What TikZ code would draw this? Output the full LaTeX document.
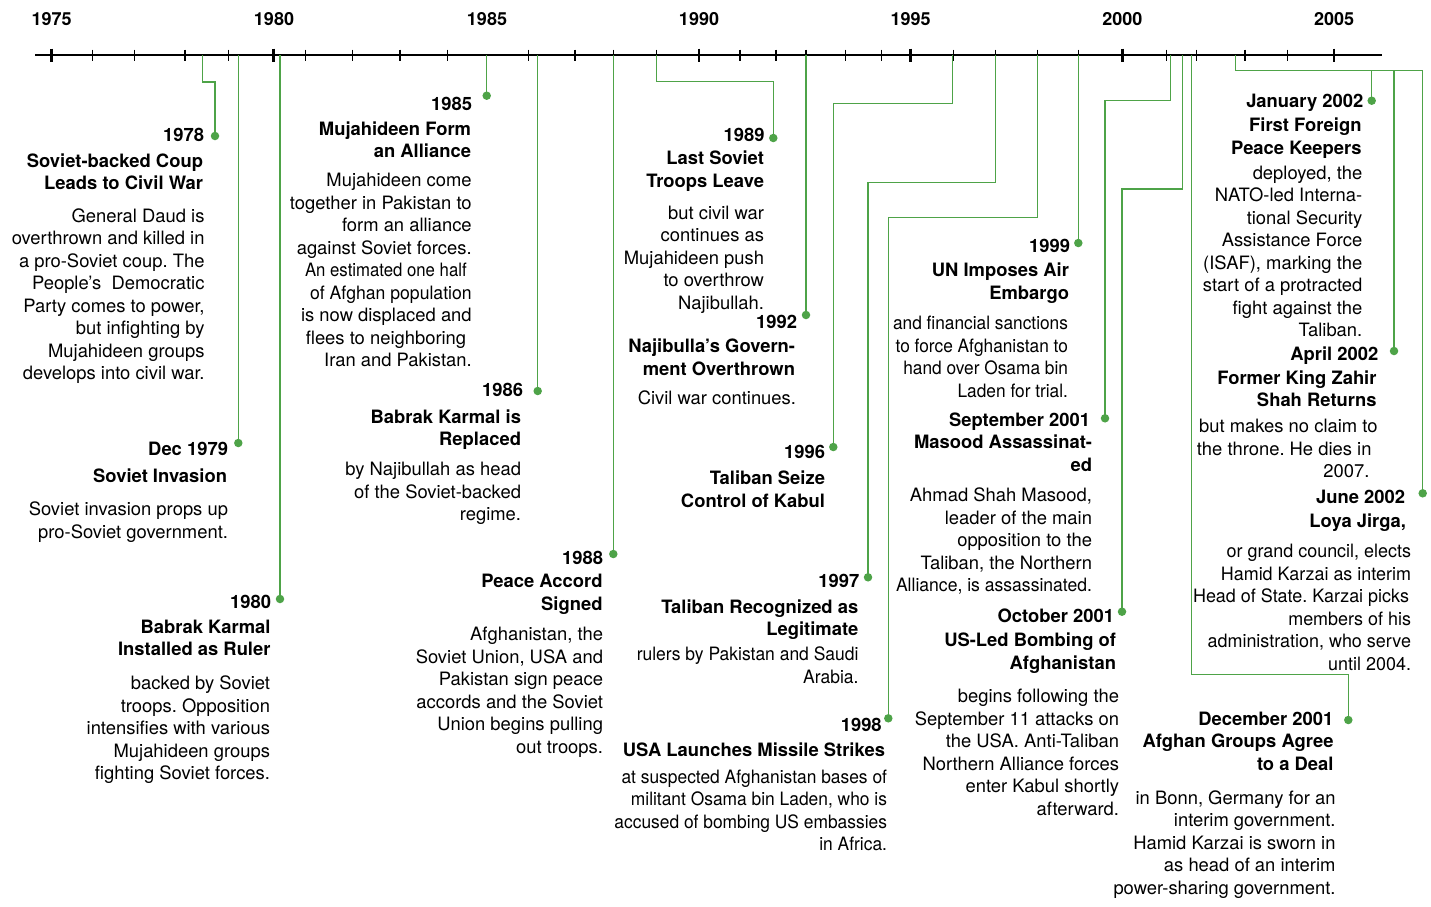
\documentclass[tikz,border=0pt]{standalone}
\usepackage{fontspec}
\setmainfont{TeX Gyre Heros}
\usepackage{graphicx}
\definecolor{tlgreen}{RGB}{78,163,72}
\newcommand{\rstack}[1]{\begin{tabular}[t]{@{}r@{}}#1\end{tabular}}
\newcommand{\fitw}[2]{\resizebox{#1}{\height}{#2}}
\newcommand{\sx}[2]{\scalebox{#1}[1]{#2}}
\frenchspacing
\begin{document}
\begin{tikzpicture}[x=1pt,y=-1pt,
  every node/.style={inner sep=0pt,outer sep=0pt,font=\fontsize{18.4}{22.5}\selectfont},
  yearlbl/.style={anchor=base east,font=\fontsize{18.4}{22.5}\selectfont\bfseries},
  ttl/.style={anchor=base east,font=\fontsize{18.4}{22.5}\selectfont\bfseries},
  bodytxt/.style={anchor=base east},
  axlbl/.style={anchor=base,font=\fontsize{18}{22}\selectfont\bfseries},
  axisline/.style={line width=1.5pt,black},
  minortick/.style={line width=1.2pt,black},
  majortick/.style={line width=2.6pt,black},
  leader/.style={draw=tlgreen,line width=1.3pt},
  dot/.style={circle,fill=tlgreen,minimum size=8.5pt}]
\useasboundingbox (0,0) rectangle (1431,906);

% axis
\coordinate (axL) at (35,55);
\coordinate (axR) at (1381.7,55);
\draw[axisline] (axL) -- (axR);
\foreach \x in {92.3,134.3,185,228.3,305.7,352.7,400,447.7,528.3,575,613.3,656.7,740,776,806,845.7,881.7,953.3,995.7,1037.7,1078.3,1166.7,1196.7,1245,1287.3}
  \draw[minortick] (\x,49.5) -- (\x,60.5);
\foreach \x in {51.7,273.3,699,910.7,1122.3,1334}
  \draw[majortick] (\x,48.5) -- (\x,61.5);
\node[axlbl] (l1975) at (51.7,25) {1975};
\node[axlbl] (l1980) at (274,25) {1980};
\node[axlbl] (l1985) at (487,25) {1985};
\node[axlbl] (l1990) at (699,25) {1990};
\node[axlbl] (l1995) at (910.7,25) {1995};
\node[axlbl] (l2000) at (1122.3,25) {2000};
\node[axlbl] (l2005) at (1334,25) {2005};

% dots
\node[dot] (d1978) at (215,136) {};
\node[dot] (d1979) at (238.3,443) {};
\node[dot] (d1980) at (280,599) {};
\node[dot] (d1985) at (486.7,95.7) {};
\node[dot] (d1986) at (537.7,391) {};
\node[dot] (d1988) at (613.3,554) {};
\node[dot] (d1989) at (773.3,138) {};
\node[dot] (d1992) at (806,315) {};
\node[dot] (d1996) at (833.3,447) {};
\node[dot] (d1997) at (868,577.3) {};
\node[dot] (d1998) at (888.3,718.3) {};
\node[dot] (d1999) at (1078.3,243) {};
\node[dot] (dSep) at (1105,418.3) {};
\node[dot] (dOct) at (1122,611.7) {};
\node[dot] (dDec) at (1348.3,720) {};
\node[dot] (dJan) at (1371.7,100.7) {};
\node[dot] (dApr) at (1394,351) {};
\node[dot] (dJun) at (1422.7,493.3) {};

% axis anchors
\coordinate (a1978) at (202.3,55);
\coordinate (a1979) at (238.3,55);
\coordinate (a1980) at (280,55);
\coordinate (a1985) at (486.7,55);
\coordinate (a1986) at (537.7,55);
\coordinate (a1988) at (613.3,55);
\coordinate (a1989) at (656.7,55);
\coordinate (a1992) at (806,55);
\coordinate (a1996) at (952.8,55);
\coordinate (a1997) at (995.5,55);
\coordinate (a1998) at (1037.7,55);
\coordinate (a1999) at (1078.3,55);
\coordinate (aSep) at (1170.8,55);
\coordinate (aOct) at (1182.7,55);
\coordinate (aDec) at (1191.5,55);
\coordinate (a2002) at (1235.7,55);
\coordinate (h2002) at (1235.7,70.7);

% leaders
\draw[leader] (a1978) -- ++(0,27) -| (d1978.center);
\draw[leader] (a1979) -- (d1979.center);
\draw[leader] (a1980) -- (d1980.center);
\draw[leader] (a1985) -- (d1985.center);
\draw[leader] (a1986) -- (d1986.center);
\draw[leader] (a1988) -- (d1988.center);
\draw[leader] (a1989) -- ++(0,26.7) -| (d1989.center);
\draw[leader] (a1992) -- (d1992.center);
\draw[leader] (a1996) -- ++(0,48.3) -| (d1996.center);
\draw[leader] (a1997) -- ++(0,127.3) -| (d1997.center);
\draw[leader] (a1998) -- ++(0,162.3) -| (d1998.center);
\draw[leader] (a1999) -- (d1999.center);
\draw[leader] (aSep) -- ++(0,45.7) -| (dSep.center);
\draw[leader] (aOct) -- ++(0,134) -| (dOct.center);
\draw[leader] (aDec) -- ++(0,619.3) -| (dDec.center);
\draw[leader] (a2002) -- (h2002) -| (dJun.center);
\draw[leader] (dJan.center) -- (dJan.center |- h2002);
\draw[leader] (dApr.center) -- (dApr.center |- h2002);

% 1978
\node[yearlbl] (y1978) at (204,141.7) {1978};
\node[ttl] (t1978) at (203,167.3) {\rstack{Soviet-backed Coup\\Leads to Civil War}};
\node[bodytxt] (b1978) at (204.5,222.3) {\rstack{General Daud is\\overthrown and killed in\\a pro-Soviet coup. The\\People’s~ Democratic\\Party comes to power,\\but infighting by\\Mujahideen groups\\develops into civil war.}};

% Dec 1979
\node[yearlbl] (y1979) at (228,455.3) {Dec 1979};
\node[ttl] (t1979) at (227,482) {Soviet Invasion};
\node[bodytxt] (b1979) at (228,515.5) {\rstack{Soviet invasion props up\\pro-Soviet government.}};

% 1980
\node[yearlbl] (y1980) at (271,608.3) {1980};
\node[ttl] (t1980) at (270.5,633) {\rstack{Babrak Karmal\\Installed as Ruler}};
\node[bodytxt] (b1980) at (270,689.5) {\rstack{backed by Soviet\\troops. Opposition\\intensifies with various\\Mujahideen groups\\fighting Soviet forces.}};

% 1985
\node[yearlbl] (y1985) at (472,110.7) {1985};
\node[ttl] (t1985) at (471,135) {\rstack{Mujahideen Form\\an Alliance}};
\node[bodytxt] (b1985) at (471.7,186.7) {\rstack{Mujahideen come\\together in Pakistan to\\form an alliance\\against Soviet forces.\\\fitw{161.7pt}{An estimated one half}\kern5pt\\\fitw{161.7pt}{of Afghan population}\\is now displaced and\\flees to neighboring\kern5.5pt\\Iran and Pakistan.}};

% 1986
\node[yearlbl] (y1986) at (523,396.5) {1986};
\node[ttl] (t1986) at (521,423) {\rstack{Babrak Karmal is\\Replaced}};
\node[bodytxt] (b1986) at (521,475.5) {\rstack{by Najibullah as head\\of the Soviet-backed\\regime.}};

% 1988
\node[yearlbl] (y1988) at (603,564.3) {1988};
\node[ttl] (t1988) at (602.5,587.5) {\rstack{Peace Accord\\Signed}};
\node[bodytxt] (b1988) at (603,640.5) {\rstack{Afghanistan, the\\Soviet Union, USA and\\Pakistan sign peace\\accords and the Soviet\\Union begins pulling\\out troops.}};

% 1989
\node[yearlbl] (y1989) at (764.5,141.5) {1989};
\node[ttl] (t1989) at (764,164.5) {\rstack{Last Soviet\\Troops Leave}};
\node[bodytxt] (b1989) at (764,219) {\rstack{but civil war\\continues as\\Mujahideen push\\to overthrow\\Najibullah.}};

% 1992
\node[yearlbl] (y1992) at (797,328.3) {1992};
\node[ttl] (t1992) at (795,352.5) {\rstack{Najibulla’s Govern-\\ment Overthrown}};
\node[bodytxt] (b1992) at (796,404.5) {Civil war continues.};

% 1996
\node[yearlbl] (y1996) at (825,458.3) {1996};
\node[ttl] (t1996) at (825,484.5) {\rstack{Taliban Seize\\Control of Kabul}};

% 1997
\node[yearlbl] (y1997) at (859.3,587.3) {1997};
\node[ttl] (t1997) at (858.3,613.3) {\rstack{Taliban Recognized as\\Legitimate}};
\node[bodytxt] (b1997) at (858.5,660.7) {\sx{0.95}{\rstack{rulers by Pakistan and Saudi\\Arabia.}}};

% 1998
\node[yearlbl] (y1998) at (881.7,731.7) {1998};
\node[ttl] (t1998) at (885,756.7) {USA Launches Missile Strikes};
\node[bodytxt] (b1998) at (887,783.3) {\sx{0.945}{\rstack{at suspected Afghanistan bases of\\militant Osama bin Laden, who is\\accused of bombing US embassies\\in Africa.}}};

% 1999
\node[yearlbl] (y1999) at (1070,252.5) {1999};
\node[ttl] (t1999) at (1069,276.5) {\rstack{UN Imposes Air\\Embargo}};
\node[bodytxt] (b1999) at (1068,329.5) {\sx{0.94}{\rstack{and financial sanctions\\to force Afghanistan to\\hand over Osama bin\\Laden for trial.}}};

% September 2001
\node[yearlbl] (ySep) at (1090,426.5) {September 2001};
\node[ttl] (tSep) at (1092,448.5) {\rstack{Masood Assassinat-\\ed}};
\node[bodytxt] (bSep) at (1092,501.5) {\rstack{Ahmad Shah Masood,\\leader of the main\\opposition to the\\Taliban, the Northern\\\fitw{196pt}{Alliance, is assassinated.}}};

% October 2001
\node[yearlbl] (yOct) at (1114,622.5) {October 2001};
\node[ttl] (tOct) at (1116,646.5) {\rstack{US-Led Bombing of\\Afghanistan}};
\node[bodytxt] (bOct) at (1119,702.5) {\rstack{begins following the\\September 11 attacks on\\the USA. Anti-Taliban\\Northern Alliance forces\\enter Kabul shortly\\afterward.}};

% December 2001
\node[yearlbl] (yDec) at (1333.3,725) {December 2001};
\node[ttl] (tDec) at (1333.5,747.7) {\rstack{Afghan Groups Agree\\to a Deal}};
\node[bodytxt] (bDec) at (1335.5,804.3) {\rstack{in Bonn, Germany for an\\interim government.\\Hamid Karzai is sworn in\\as head of an interim\\power-sharing government.}};

% January 2002
\node[yearlbl] (yJan) at (1363.3,107.7) {January 2002};
\node[ttl] (tJan) at (1361.5,131.7) {\rstack{First Foreign\\Peace Keepers}};
\node[bodytxt] (bJan) at (1362.3,179) {\rstack{deployed, the\\NATO-led Interna-\\tional Security\\Assistance Force\\(ISAF), marking the\\start of a protracted\\fight against the\\Taliban.}};

% April 2002
\node[yearlbl] (yApr) at (1378.3,360) {April 2002};
\node[ttl] (tApr) at (1376.5,384) {\rstack{Former King Zahir\\Shah Returns}};
\node[bodytxt] (bApr) at (1377.5,432.7) {\rstack{but makes no claim to\\the throne. He dies in\kern6pt\\2007.\kern8pt}};

% June 2002
\node[yearlbl] (yJun) at (1405,503.3) {June 2002};
\node[ttl] (tJun) at (1406,527.3) {Loya Jirga,};
\node[bodytxt] (bJun) at (1411,557.7) {\sx{0.975}{\rstack{or grand council, elects\\Hamid Karzai as interim\\Head of State. Karzai picks\kern2pt\\members of his\\administration, who serve\\until 2004.}}};
\end{tikzpicture}
\end{document}
